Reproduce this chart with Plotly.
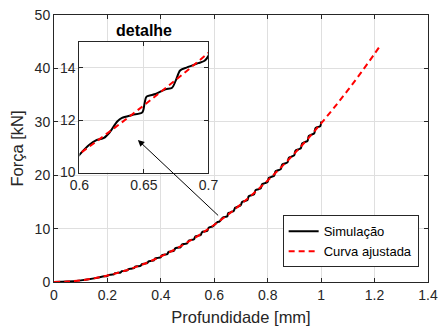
import plotly.graph_objects as go

# ---- data ----
sim_x = [0.000, 0.050, 0.100, 0.150, 0.189,
         0.199, 0.204, 0.214, 0.224, 0.229, 0.239, 0.249, 0.254, 0.264,
         0.274, 0.279, 0.289, 0.299, 0.304, 0.314, 0.324, 0.329, 0.339,
         0.349, 0.354, 0.364, 0.374, 0.379, 0.389, 0.399, 0.404, 0.414,
         0.424, 0.429, 0.439, 0.449, 0.454, 0.464, 0.474, 0.479, 0.489,
         0.499, 0.504, 0.514, 0.524, 0.529, 0.539, 0.549, 0.554, 0.564,
         0.574, 0.579, 0.589, 0.596,
         0.600, 0.6077, 0.6128, 0.619, 0.623, 0.6295, 0.633, 0.641, 0.6487,
         0.6505, 0.652, 0.659, 0.6667, 0.6718, 0.675, 0.678, 0.683, 0.692,
         0.697, 0.700,
         0.704, 0.714, 0.724, 0.729, 0.739, 0.749, 0.754, 0.764,
         0.774, 0.779, 0.789, 0.799, 0.804, 0.814, 0.824, 0.829, 0.839,
         0.849, 0.854, 0.864, 0.874, 0.879, 0.889, 0.899, 0.904, 0.914,
         0.924, 0.929, 0.939, 0.949, 0.954, 0.964, 0.974, 0.979, 0.989,
         0.997, 1.000]
sim_y = [0.000, 0.079, 0.306, 0.681, 1.076,
         1.124, 1.320, 1.377, 1.431, 1.652, 1.715, 1.775, 2.020, 2.089,
         2.156, 2.426, 2.501, 2.574, 2.868, 2.950, 3.029, 3.348, 3.436,
         3.521, 3.864, 3.958, 4.050, 4.418, 4.518, 4.616, 5.008, 5.115,
         5.219, 5.636, 5.748, 5.859, 6.299, 6.419, 6.536, 7.001, 7.127,
         7.250, 7.739, 7.872, 8.001, 8.515, 8.653, 8.789, 9.327, 9.472,
         9.614, 10.177, 10.328, 10.45,
         10.68, 11.06, 11.23, 11.32, 11.51, 11.96, 12.09, 12.20, 12.30,
         12.65, 12.90, 13.00, 13.18, 13.24, 13.56, 13.90, 14.01, 14.18,
         14.27, 14.46,
         14.979, 15.161, 15.341, 16.051, 16.239, 16.426, 17.159, 17.354,
         17.546, 18.304, 18.506, 18.705, 19.486, 19.694, 19.899, 20.706, 20.920,
         21.132, 21.962, 22.183, 22.400, 23.256, 23.482, 23.707, 24.586, 24.819,
         25.049, 25.954, 26.193, 26.430, 27.358, 27.604, 27.846, 28.800, 29.051,
         29.18, 30.05]

fit_x = [0.00, 0.05, 0.10, 0.15, 0.20, 0.25, 0.30, 0.35, 0.40, 0.45, 0.50,
         0.55, 0.60, 0.65, 0.70, 0.75, 0.80, 0.85, 0.90, 0.95, 1.00, 1.05,
         1.10, 1.15, 1.20, 1.216]
fit_y = [0.000, 0.079, 0.306, 0.681, 1.204, 1.875, 2.694, 3.661, 4.776,
         6.039, 7.450, 9.009, 10.716, 12.571, 14.574, 16.725, 19.024, 21.471,
         24.066, 26.809, 29.700, 32.739, 35.926, 39.261, 42.744, 43.890]

x_ticks = [0, 0.2, 0.4, 0.6, 0.8, 1.0, 1.2, 1.4]
x_ticktext = ["0", "0.2", "0.4", "0.6", "0.8", "1", "1.2", "1.4"]
y_ticks = [0, 10, 20, 30, 40, 50]
inset_x_ticks = [0.6, 0.65, 0.7]
inset_x_text = ["0.6", "0.65", "0.7"]
inset_y_ticks = [10, 12, 14]

series_names = ["Simulação", "Curva ajustada"]
inset_title = "detalhe"
x_label = "Profundidade [mm]"
y_label = "Força [kN]"

# arrow (tail on the curve, head in the inset), data coords
arrow_tail = (0.620, 12.2)
arrow_head = (0.314, 26.6)

AX = "#262626"
GRID = "#dfdfdf"
FONT = "Liberation Sans, Arial, Helvetica, sans-serif"

fig = go.Figure()
for xa, ya, show in [("x", "y", True), ("x2", "y2", False)]:
    fig.add_trace(go.Scatter(
        x=sim_x, y=sim_y, mode="lines", name=series_names[0],
        line=dict(color="black", width=2, shape="spline", smoothing=0.8),
        xaxis=xa, yaxis=ya, showlegend=show))
    fig.add_trace(go.Scatter(
        x=fit_x, y=fit_y, mode="lines", name=series_names[1],
        line=dict(color="#ff0000", width=2, dash="6px,4px", shape="spline"),
        xaxis=xa, yaxis=ya, showlegend=show))

axis_common = dict(showline=True, linecolor=AX, linewidth=1, mirror="ticks",
                   ticks="inside", ticklen=4, tickcolor=AX, showgrid=True,
                   gridcolor=GRID, gridwidth=1, zeroline=False, automargin=False,
                   tickfont=dict(family=FONT, size=14, color=AX))

fig.update_layout(
    width=438, height=329,
    margin=dict(l=54, r=10, t=15, b=46.5),
    paper_bgcolor="white", plot_bgcolor="white",
    font=dict(family=FONT, color=AX),
    xaxis=dict(range=[0, 1.4], tickvals=x_ticks, ticktext=x_ticktext,
               title=dict(text=x_label, font=dict(size=16.5, color=AX), standoff=9),
               **axis_common),
    yaxis=dict(range=[0, 50], tickvals=y_ticks,
               title=dict(text=y_label, font=dict(size=16.5, color=AX), standoff=6),
               **axis_common),
    xaxis2=dict(domain=[0.068, 0.413], anchor="y2", range=[0.6, 0.7],
                tickvals=inset_x_ticks, ticktext=inset_x_text, **axis_common),
    yaxis2=dict(domain=[0.410, 0.900], anchor="x2", range=[10, 15],
                tickvals=inset_y_ticks, **axis_common),
    legend=dict(x=0.975, xanchor="right", y=0.055, yanchor="bottom",
                bgcolor="white", bordercolor=AX, borderwidth=1,
                font=dict(family=FONT, size=13, color="black"),
                tracegroupgap=0, itemwidth=30),
    showlegend=True,
)

fig.add_annotation(xref="paper", yref="paper", x=0.2405, y=0.903,
                   xanchor="center", yanchor="bottom", showarrow=False,
                   text="<b>" + inset_title + "</b>",
                   font=dict(family=FONT, size=16, color="black"))

fig.add_annotation(xref="x", yref="y", x=arrow_head[0], y=arrow_head[1],
                   axref="x", ayref="y", ax=arrow_tail[0], ay=arrow_tail[1],
                   text="", showarrow=True, arrowhead=2, arrowsize=1.3,
                   arrowwidth=1, arrowcolor="black", standoff=0, startstandoff=0)

fig.write_html("out.html")
